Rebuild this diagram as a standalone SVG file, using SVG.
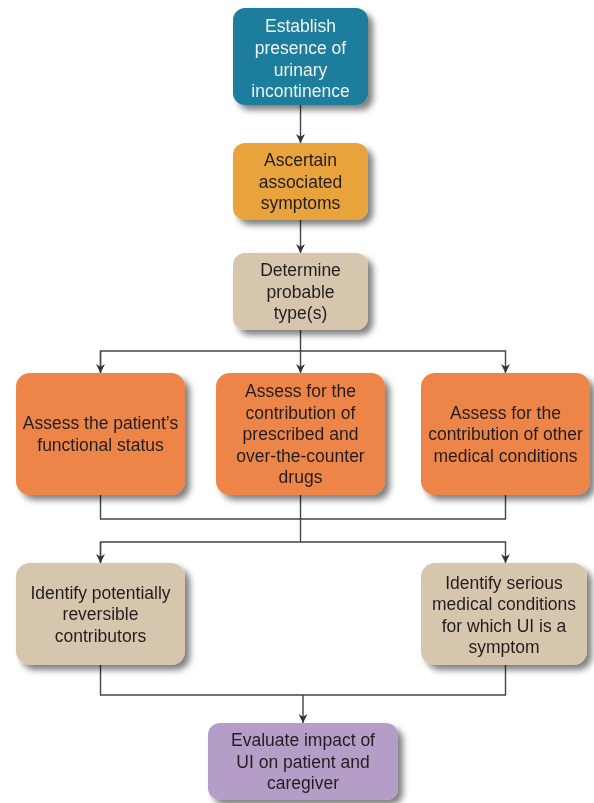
<svg xmlns="http://www.w3.org/2000/svg" width="594" height="803" viewBox="0 0 594 803">
<defs>
<filter id="sh" x="-10%" y="-10%" width="135%" height="140%">
<feGaussianBlur in="SourceAlpha" stdDeviation="3"/>
<feOffset dx="5" dy="5" result="b"/>
<feComponentTransfer><feFuncA type="linear" slope="0.5"/></feComponentTransfer>
<feMerge><feMergeNode/><feMergeNode in="SourceGraphic"/></feMerge>
</filter>
<marker id="ar" viewBox="0 0 10 10" refX="10" refY="5" markerWidth="10" markerHeight="9" markerUnits="userSpaceOnUse" orient="auto">
<path d="M0,0 L10,5 L0,10 L3,5 Z" fill="#333"/>
</marker>
</defs>
<style>
.t{font-family:"Liberation Sans",Arial,sans-serif;font-size:17.5px;fill:#231f20;text-anchor:middle}
.w{fill:#eef2f4}
.c{fill:none;stroke:#444;stroke-width:1.4}
.b{filter:url(#sh)}
</style>
<rect width="594" height="803" fill="#fff"/>
<g id="connectors">
<path class="c" d="M300.5,105 V143" marker-end="url(#ar)"/>
<path class="c" d="M300.5,220 V253" marker-end="url(#ar)"/>
<path class="c" d="M300.5,330 V351"/>
<path class="c" d="M100.5,373 V351 H505.5 V373" marker-end="url(#ar)"/>
<path class="c" d="M100.5,351 V373" marker-end="url(#ar)"/>
<path class="c" d="M300.5,351 V373" marker-end="url(#ar)"/>
<path class="c" d="M100.5,495 V519 H505.5 V495"/>
<path class="c" d="M300.5,495 V542"/>
<path class="c" d="M100.5,563 V542 H505.5 V563" marker-end="url(#ar)"/>
<path class="c" d="M100.5,542 V563" marker-end="url(#ar)"/>
<path class="c" d="M100.5,665 V695 H505.5 V665"/>
<path class="c" d="M303,695 V723" marker-end="url(#ar)"/>
</g>
<g id="n1" class="b"><rect x="233" y="8" width="135" height="97" rx="12" fill="#1f7e9c"/>
<text class="t w"><tspan x="300.5" y="32">Establish</tspan><tspan x="300.5" y="54">presence of</tspan><tspan x="300.5" y="75.5">urinary</tspan><tspan x="300.5" y="97">incontinence</tspan></text></g>
<g id="n2" class="b"><rect x="233" y="143" width="135" height="77" rx="12" fill="#e9a33e"/>
<text class="t"><tspan x="300.5" y="166">Ascertain</tspan><tspan x="300.5" y="187.5">associated</tspan><tspan x="300.5" y="209">symptoms</tspan></text></g>
<g id="n3" class="b"><rect x="233" y="253" width="135" height="77" rx="12" fill="#d6c6ad"/>
<text class="t"><tspan x="300.5" y="276">Determine</tspan><tspan x="300.5" y="297.5">probable</tspan><tspan x="300.5" y="319">type(s)</tspan></text></g>
<g id="n4" class="b"><rect x="16" y="373" width="169" height="122" rx="14" fill="#ed8549"/>
<text class="t"><tspan x="100.5" y="429">Assess the patient’s</tspan><tspan x="100.5" y="450.5">functional status</tspan></text></g>
<g id="n5" class="b"><rect x="216" y="373" width="169" height="122" rx="14" fill="#ed8549"/>
<text class="t"><tspan x="300.5" y="397">Assess for the</tspan><tspan x="300.5" y="418.5">contribution of</tspan><tspan x="300.5" y="440">prescribed and</tspan><tspan x="300.5" y="461.5">over-the-counter</tspan><tspan x="300.5" y="483">drugs</tspan></text></g>
<g id="n6" class="b"><rect x="421" y="373" width="169" height="122" rx="14" fill="#ed8549"/>
<text class="t"><tspan x="505.5" y="418.5">Assess for the</tspan><tspan x="505.5" y="440">contribution of other</tspan><tspan x="505.5" y="461.5">medical conditions</tspan></text></g>
<g id="n7" class="b"><rect x="16" y="563" width="169" height="102" rx="14" fill="#d6c6ad"/>
<text class="t"><tspan x="100.5" y="598.5">Identify potentially</tspan><tspan x="100.5" y="620">reversible</tspan><tspan x="100.5" y="641.5">contributors</tspan></text></g>
<g id="n8" class="b"><rect x="421" y="563" width="166" height="102" rx="14" fill="#d6c6ad"/>
<text class="t"><tspan x="504" y="588.5">Identify serious</tspan><tspan x="504" y="610">medical conditions</tspan><tspan x="504" y="631.5">for which UI is a</tspan><tspan x="504" y="653">symptom</tspan></text></g>
<g id="n9" class="b"><rect x="208" y="723" width="190" height="77" rx="12" fill="#b49dc6"/>
<text class="t"><tspan x="303" y="746">Evaluate impact of</tspan><tspan x="303" y="767.5">UI on patient and</tspan><tspan x="303" y="789">caregiver</tspan></text></g>
</svg>
